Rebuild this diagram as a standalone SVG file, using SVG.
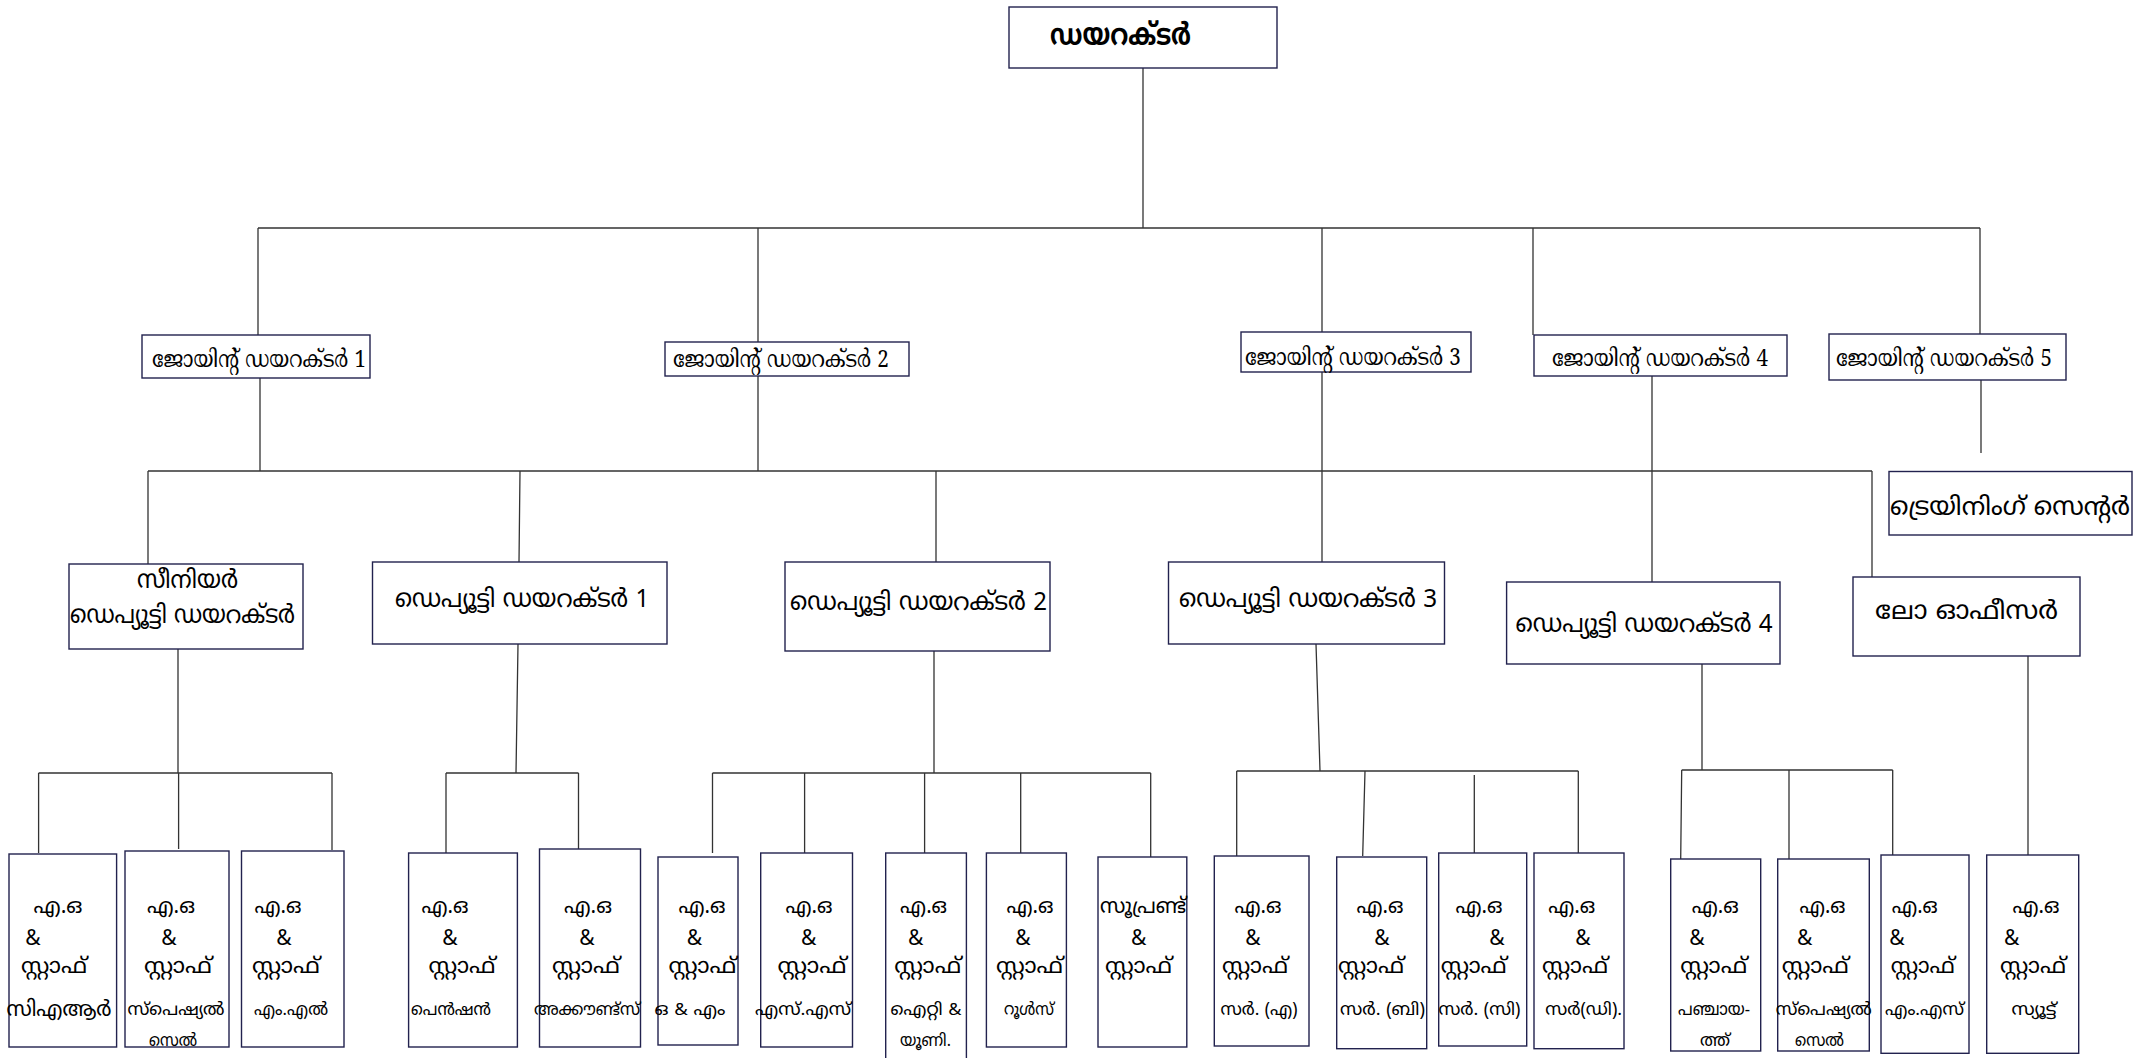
<svg xmlns="http://www.w3.org/2000/svg" width="2143" height="1058" viewBox="0 0 2143 1058">
<style>
  .bx { fill: #ffffff; stroke: #22224e; stroke-width: 1.4; }
  .ln { fill: none; stroke: #333333; stroke-width: 1.3; }
  .ml { font-family: "Noto Sans Malayalam", "Noto Sans", "DejaVu Sans", sans-serif; fill: #000; }
  .sr { font-family: "Noto Serif Malayalam", "Liberation Serif", "Noto Sans Malayalam", serif; fill: #000; }
  .t0 { font-size: 30px; font-weight: bold; }
  .jd { font-size: 24px; }
  .dd { font-size: 25px; }
  .s1 { font-size: 21px; text-anchor: middle; }
  .s4 { font-size: 17px; text-anchor: middle; }
</style>
<rect width="2143" height="1058" fill="#ffffff"/>

<g id="connectors">
  <path class="ln" d="M1143,68 V228 M258,228 H1980 M258,228 V335 M758,228 V342 M1322,228 V332 M1533,228 V335 M1980,228 V334"/>
  <path class="ln" d="M260,378 V471 M758,376 V471 M1322,372 V562 M1652,376 V582 M1981,380 V453"/>
  <path class="ln" d="M148,471 H1872 M148,471 V564 M520,471 L519,562 M936,471 V562 M1872,471 V577"/>
  <path class="ln" d="M178,649 V773 M38.6,773 H332 M38.6,773 V853 M178.6,773 V849 M332,773 V850"/>
  <path class="ln" d="M518,644 L516,773 M446,773 H578.5 M446,773 V853 M578.5,773 V849"/>
  <path class="ln" d="M934,651 V773 M712.5,773 H1150.7 M712.5,773 V853 M804.6,773 V853 M924.6,773 V853 M1020.7,773 V853 M1150.7,773 V857"/>
  <path class="ln" d="M1316,644 L1320,771 M1236.7,771 H1578.3 M1236.7,771 V856 M1365,771 L1362.7,856 M1474.3,775 V856.7 M1578.3,771 V853"/>
  <path class="ln" d="M1702,664 V770 M1681.7,770 L1680.7,859 M1681.7,770 H1892.7 M1789,770 V859 M1892.7,770 V855"/>
  <path class="ln" d="M2028,643 V855"/>
</g>

<g id="director">
  <rect class="bx" x="1009" y="7" width="268" height="61"/>
  <text class="ml t0" x="1050" y="45" textLength="141" lengthAdjust="spacingAndGlyphs">ഡയറക്ടർ</text>
</g>

<g id="jd1"><rect class="bx" x="142" y="335" width="228" height="43"/>
  <text class="sr jd" x="152" y="367" textLength="214" lengthAdjust="spacingAndGlyphs">ജോയിന്റ് ഡയറക്ടർ 1</text></g>
<g id="jd2"><rect class="bx" x="665" y="342" width="244" height="34"/>
  <text class="sr jd" x="673" y="367" textLength="216" lengthAdjust="spacingAndGlyphs">ജോയിന്റ് ഡയറക്ടർ 2</text></g>
<g id="jd3"><rect class="bx" x="1241" y="332" width="230" height="40"/>
  <text class="sr jd" x="1245" y="365" textLength="216" lengthAdjust="spacingAndGlyphs">ജോയിന്റ് ഡയറക്ടർ 3</text></g>
<g id="jd4"><rect class="bx" x="1534" y="335" width="253" height="41"/>
  <text class="sr jd" x="1552" y="366" textLength="216" lengthAdjust="spacingAndGlyphs">ജോയിന്റ് ഡയറക്ടർ 4</text></g>
<g id="jd5"><rect class="bx" x="1829" y="334" width="237" height="46"/>
  <text class="sr jd" x="1836" y="366" textLength="216" lengthAdjust="spacingAndGlyphs">ജോയിന്റ് ഡയറക്ടർ 5</text></g>

<g id="sdd"><rect class="bx" x="69" y="564" width="234" height="85"/>
  <text class="ml dd" x="137" y="588" textLength="101" lengthAdjust="spacingAndGlyphs">സീനിയർ</text>
  <text class="ml dd" x="70" y="623" textLength="225" lengthAdjust="spacingAndGlyphs">ഡെപ്യൂട്ടി ഡയറക്ടർ</text></g>
<g id="dd1"><rect class="bx" x="372.5" y="562" width="294.5" height="82"/>
  <text class="ml dd" x="395" y="607" textLength="254" lengthAdjust="spacingAndGlyphs">ഡെപ്യൂട്ടി ഡയറക്ടർ 1</text></g>
<g id="dd2"><rect class="bx" x="785" y="562" width="265" height="89"/>
  <text class="ml dd" x="790" y="610" textLength="257" lengthAdjust="spacingAndGlyphs">ഡെപ്യൂട്ടി ഡയറക്ടർ 2</text></g>
<g id="dd3"><rect class="bx" x="1168.5" y="562" width="276" height="82"/>
  <text class="ml dd" x="1179" y="607" textLength="258" lengthAdjust="spacingAndGlyphs">ഡെപ്യൂട്ടി ഡയറക്ടർ 3</text></g>
<g id="dd4"><rect class="bx" x="1506.6" y="582" width="273.4" height="82"/>
  <text class="ml dd" x="1515.6" y="632" textLength="257" lengthAdjust="spacingAndGlyphs">ഡെപ്യൂട്ടി ഡയറക്ടർ 4</text></g>
<g id="law-officer"><rect class="bx" x="1853" y="577" width="227" height="79"/>
  <text class="ml dd" x="1875" y="619" textLength="183" lengthAdjust="spacingAndGlyphs">ലോ ഓഫീസർ</text></g>
<g id="training-centre"><rect class="bx" x="1889" y="471.5" width="243" height="63.5"/>
  <text class="ml dd" x="1890" y="515" textLength="240" lengthAdjust="spacingAndGlyphs">ട്രെയിനിംഗ് സെന്റർ</text></g>

<g id="s-car"><rect class="bx" x="9" y="854" width="107.6" height="193"/>
  <text class="ml s1" x="58" y="913" textLength="49" lengthAdjust="spacingAndGlyphs">എ.ഒ</text>
  <text class="ml s1" x="33" y="945">&amp;</text>
  <text class="ml s1" x="54" y="973" textLength="66" lengthAdjust="spacingAndGlyphs">സ്റ്റാഫ്</text>
  <text class="ml s1" x="59" y="1016" textLength="105" lengthAdjust="spacingAndGlyphs">സിഎആർ</text></g>
<g id="s-specialcell"><rect class="bx" x="125" y="851" width="104" height="196"/>
  <text class="ml s1" x="171" y="913" textLength="48" lengthAdjust="spacingAndGlyphs">എ.ഒ</text>
  <text class="ml s1" x="169" y="945">&amp;</text>
  <text class="ml s1" x="178" y="973" textLength="68" lengthAdjust="spacingAndGlyphs">സ്റ്റാഫ്</text>
  <text class="ml s4" x="176" y="1015" textLength="97" lengthAdjust="spacingAndGlyphs">സ്പെഷ്യൽ</text>
  <text class="ml s4" x="173" y="1046" textLength="48" lengthAdjust="spacingAndGlyphs">സെൽ</text></g>
<g id="s-ml"><rect class="bx" x="241.5" y="851" width="102.5" height="196"/>
  <text class="ml s1" x="278" y="913" textLength="47" lengthAdjust="spacingAndGlyphs">എ.ഒ</text>
  <text class="ml s1" x="284" y="945">&amp;</text>
  <text class="ml s1" x="286" y="973" textLength="68" lengthAdjust="spacingAndGlyphs">സ്റ്റാഫ്</text>
  <text class="ml s4" x="291" y="1015" textLength="74" lengthAdjust="spacingAndGlyphs">എം.എൽ</text></g>
<g id="s-pension"><rect class="bx" x="408.6" y="853" width="108.8" height="194"/>
  <text class="ml s1" x="445" y="913" textLength="47" lengthAdjust="spacingAndGlyphs">എ.ഒ</text>
  <text class="ml s1" x="450" y="945">&amp;</text>
  <text class="ml s1" x="462" y="973" textLength="67" lengthAdjust="spacingAndGlyphs">സ്റ്റാഫ്</text>
  <text class="ml s4" x="451" y="1015" textLength="80" lengthAdjust="spacingAndGlyphs">പെൻഷൻ</text></g>
<g id="s-accounts"><rect class="bx" x="539.5" y="849" width="101" height="198"/>
  <text class="ml s1" x="588" y="913" textLength="48" lengthAdjust="spacingAndGlyphs">എ.ഒ</text>
  <text class="ml s1" x="587" y="945">&amp;</text>
  <text class="ml s1" x="586" y="973" textLength="68" lengthAdjust="spacingAndGlyphs">സ്റ്റാഫ്</text>
  <text class="ml s4" x="587" y="1015" textLength="106" lengthAdjust="spacingAndGlyphs">അക്കൗണ്ട്സ്</text></g>
<g id="s-om"><rect class="bx" x="658" y="857" width="80" height="188"/>
  <text class="ml s1" x="702" y="913" textLength="47" lengthAdjust="spacingAndGlyphs">എ.ഒ</text>
  <text class="ml s1" x="694.5" y="945">&amp;</text>
  <text class="ml s1" x="702.5" y="973" textLength="68" lengthAdjust="spacingAndGlyphs">സ്റ്റാഫ്</text>
  <text class="ml s4" x="690" y="1015" textLength="71" lengthAdjust="spacingAndGlyphs">ഒ &amp; എം</text></g>
<g id="s-ss"><rect class="bx" x="760.7" y="853" width="91.8" height="194"/>
  <text class="ml s1" x="809" y="913" textLength="47" lengthAdjust="spacingAndGlyphs">എ.ഒ</text>
  <text class="ml s1" x="808.6" y="945">&amp;</text>
  <text class="ml s1" x="812" y="973" textLength="69" lengthAdjust="spacingAndGlyphs">സ്റ്റാഫ്</text>
  <text class="ml s4" x="803" y="1015" textLength="96" lengthAdjust="spacingAndGlyphs">എസ്.എസ്</text></g>
<g id="s-it"><rect class="bx" x="885.7" y="853" width="80.7" height="220"/>
  <text class="ml s1" x="923.6" y="913" textLength="47" lengthAdjust="spacingAndGlyphs">എ.ഒ</text>
  <text class="ml s1" x="915.7" y="945">&amp;</text>
  <text class="ml s1" x="927.7" y="973" textLength="67" lengthAdjust="spacingAndGlyphs">സ്റ്റാഫ്</text>
  <text class="ml s4" x="926" y="1015" textLength="71" lengthAdjust="spacingAndGlyphs">ഐറ്റി &amp;</text>
  <text class="ml s4" x="925.4" y="1046" textLength="51" lengthAdjust="spacingAndGlyphs">യൂണി.</text></g>
<g id="s-rules"><rect class="bx" x="986.4" y="853" width="80" height="194"/>
  <text class="ml s1" x="1030" y="913" textLength="47" lengthAdjust="spacingAndGlyphs">എ.ഒ</text>
  <text class="ml s1" x="1023" y="945">&amp;</text>
  <text class="ml s1" x="1029.6" y="973" textLength="67" lengthAdjust="spacingAndGlyphs">സ്റ്റാഫ്</text>
  <text class="ml s4" x="1029" y="1015" textLength="50" lengthAdjust="spacingAndGlyphs">റൂൾസ്</text></g>
<g id="s-supt"><rect class="bx" x="1098" y="857" width="88.8" height="190"/>
  <text class="ml s1" x="1143" y="913" textLength="86" lengthAdjust="spacingAndGlyphs">സൂപ്രണ്ട്</text>
  <text class="ml s1" x="1138.6" y="945">&amp;</text>
  <text class="ml s1" x="1138.6" y="973" textLength="67" lengthAdjust="spacingAndGlyphs">സ്റ്റാഫ്</text></g>
<g id="s-sa"><rect class="bx" x="1214.3" y="856" width="94.7" height="190"/>
  <text class="ml s1" x="1258" y="913" textLength="47" lengthAdjust="spacingAndGlyphs">എ.ഒ</text>
  <text class="ml s1" x="1253" y="945">&amp;</text>
  <text class="ml s1" x="1255" y="973" textLength="66" lengthAdjust="spacingAndGlyphs">സ്റ്റാഫ്</text>
  <text class="ml s4" x="1259" y="1015" textLength="77" lengthAdjust="spacingAndGlyphs">സർ. (എ)</text></g>
<g id="s-sb"><rect class="bx" x="1336.7" y="857" width="90" height="191.7"/>
  <text class="ml s1" x="1380" y="913" textLength="47" lengthAdjust="spacingAndGlyphs">എ.ഒ</text>
  <text class="ml s1" x="1382" y="945">&amp;</text>
  <text class="ml s1" x="1371" y="973" textLength="66" lengthAdjust="spacingAndGlyphs">സ്റ്റാഫ്</text>
  <text class="ml s4" x="1382.5" y="1015" textLength="85" lengthAdjust="spacingAndGlyphs">സർ. (ബി)</text></g>
<g id="s-sc"><rect class="bx" x="1438.7" y="853" width="88" height="193"/>
  <text class="ml s1" x="1479" y="913" textLength="47" lengthAdjust="spacingAndGlyphs">എ.ഒ</text>
  <text class="ml s1" x="1497" y="945">&amp;</text>
  <text class="ml s1" x="1473.7" y="973" textLength="66" lengthAdjust="spacingAndGlyphs">സ്റ്റാഫ്</text>
  <text class="ml s4" x="1479.5" y="1015" textLength="82" lengthAdjust="spacingAndGlyphs">സർ. (സി)</text></g>
<g id="s-sd"><rect class="bx" x="1534" y="853" width="90" height="195.7"/>
  <text class="ml s1" x="1571.7" y="913" textLength="47" lengthAdjust="spacingAndGlyphs">എ.ഒ</text>
  <text class="ml s1" x="1583" y="945">&amp;</text>
  <text class="ml s1" x="1575" y="973" textLength="66" lengthAdjust="spacingAndGlyphs">സ്റ്റാഫ്</text>
  <text class="ml s4" x="1583.7" y="1015" textLength="77" lengthAdjust="spacingAndGlyphs">സർ(ഡി).</text></g>
<g id="s-panchayat"><rect class="bx" x="1670.7" y="859" width="90" height="192"/>
  <text class="ml s1" x="1715.3" y="913" textLength="47" lengthAdjust="spacingAndGlyphs">എ.ഒ</text>
  <text class="ml s1" x="1697" y="945">&amp;</text>
  <text class="ml s1" x="1713.7" y="973" textLength="67" lengthAdjust="spacingAndGlyphs">സ്റ്റാഫ്</text>
  <text class="ml s4" x="1714" y="1015" textLength="72" lengthAdjust="spacingAndGlyphs">പഞ്ചായ-</text>
  <text class="ml s4" x="1715" y="1046" textLength="30" lengthAdjust="spacingAndGlyphs">ത്ത്</text></g>
<g id="s-specialcell2"><rect class="bx" x="1777.7" y="859" width="91.6" height="192"/>
  <text class="ml s1" x="1822.5" y="913" textLength="46" lengthAdjust="spacingAndGlyphs">എ.ഒ</text>
  <text class="ml s1" x="1804.7" y="945">&amp;</text>
  <text class="ml s1" x="1815.3" y="973" textLength="67" lengthAdjust="spacingAndGlyphs">സ്റ്റാഫ്</text>
  <text class="ml s4" x="1823.8" y="1015" textLength="96" lengthAdjust="spacingAndGlyphs">സ്പെഷ്യൽ</text>
  <text class="ml s4" x="1819.5" y="1046" textLength="49" lengthAdjust="spacingAndGlyphs">സെൽ</text></g>
<g id="s-ms"><rect class="bx" x="1881" y="855" width="88" height="198.3"/>
  <text class="ml s1" x="1914.7" y="913" textLength="46" lengthAdjust="spacingAndGlyphs">എ.ഒ</text>
  <text class="ml s1" x="1897" y="945">&amp;</text>
  <text class="ml s1" x="1922.8" y="973" textLength="64" lengthAdjust="spacingAndGlyphs">സ്റ്റാഫ്</text>
  <text class="ml s4" x="1924.5" y="1015" textLength="79" lengthAdjust="spacingAndGlyphs">എം.എസ്</text></g>
<g id="s-suit"><rect class="bx" x="1986.7" y="855" width="92" height="198.3"/>
  <text class="ml s1" x="2036" y="913" textLength="47" lengthAdjust="spacingAndGlyphs">എ.ഒ</text>
  <text class="ml s1" x="2011.7" y="945">&amp;</text>
  <text class="ml s1" x="2033" y="973" textLength="66" lengthAdjust="spacingAndGlyphs">സ്റ്റാഫ്</text>
  <text class="ml s4" x="2034" y="1015" textLength="45" lengthAdjust="spacingAndGlyphs">സ്യൂട്ട്</text></g>
</svg>
